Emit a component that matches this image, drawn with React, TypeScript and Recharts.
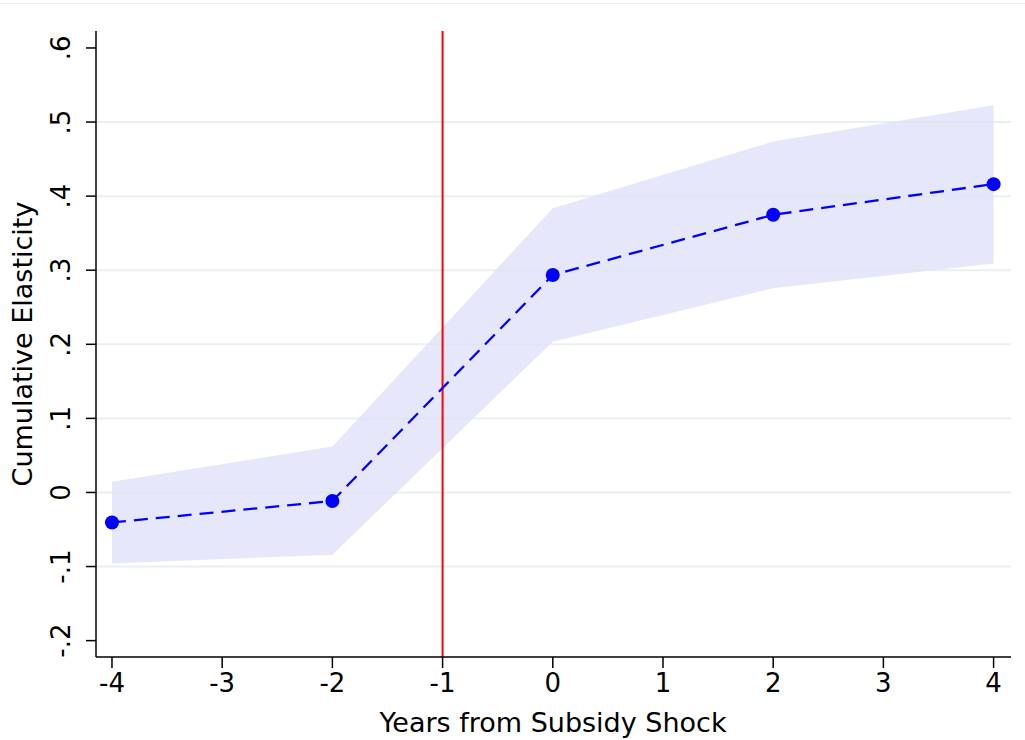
import React from 'react';
import {
	Area,
	ComposedChart,
	Label,
	Line,
	ReferenceLine,
	XAxis,
	YAxis,
} from 'recharts';

// event-study estimates
const years = [-4, -2, 0, 2, 4];
const coef = [-0.0405, -0.0115, 0.2935, 0.3748, 0.4162];
const ciLow = [-0.0958, -0.084, 0.2034, 0.2758, 0.309];
const ciHigh = [0.0144, 0.062, 0.3838, 0.4737, 0.5228];

const xTicks = [-4, -3, -2, -1, 0, 1, 2, 3, 4];
const yTicks = [-0.2, -0.1, 0, 0.1, 0.2, 0.3, 0.4, 0.5, 0.6];
const gridValues = [-0.1, 0, 0.1, 0.2, 0.3, 0.4, 0.5];
const shockYear = -1;

const data = years.map((y, i) => ({
	year: y,
	coef: coef[i],
	ci: [ciLow[i], ciHigh[i]],
}));

const FONT = '"DejaVu Sans", sans-serif';

// stata style labels: .6, -.1, 0
const fmtY = (v: number) => {
	if (Math.abs(v) < 1e-9) return '0';
	return (v < 0 ? '-' : '') + Math.abs(v).toFixed(1).replace(/^0/, '');
};

const YTick = (props: any) => {
	const { y, payload } = props;
	return (
		<text
			x={70}
			y={y}
			transform={`rotate(-90, 70, ${y})`}
			textAnchor="middle"
			fontSize={26}
			fontFamily={FONT}
			fill="#000"
		>
			{fmtY(payload.value)}
		</text>
	);
};

const XTick = (props: any) => {
	const { x, payload } = props;
	return (
		<text x={x} y={692} textAnchor="middle" fontSize={26} fontFamily={FONT} fill="#000">
			{payload.value}
		</text>
	);
};

export default function App() {
	return (
		<div style={{ position: 'absolute', left: 0, top: 0, width: 1025, height: 740, background: '#fff' }}>
			<div style={{ position: 'absolute', left: 0, top: 3, width: 1025, height: 1, background: '#eeeeee' }} />
			<ComposedChart
				width={1025}
				height={740}
				data={data}
				margin={{ top: 31, right: 14, bottom: 0, left: 0 }}
			>
				<XAxis
					dataKey="year"
					type="number"
					domain={[-4.145, 4.158]}
					ticks={xTicks}
					allowDataOverflow
					height={83}
					tickSize={11}
					axisLine={{ stroke: '#000', strokeWidth: 1.5 }}
					tickLine={{ stroke: '#000', strokeWidth: 1.5 }}
					tick={<XTick />}
					interval={0}
				>
					<Label
						content={() => (
							<text x={553} y={732} textAnchor="middle" fontSize={27} fontFamily={FONT} fill="#000">
								Years from Subsidy Shock
							</text>
						)}
					/>
				</XAxis>
				<YAxis
					type="number"
					domain={[-0.2221, 0.6229]}
					ticks={yTicks}
					allowDataOverflow
					width={96}
					tickSize={10}
					axisLine={{ stroke: '#000', strokeWidth: 1.5 }}
					tickLine={{ stroke: '#000', strokeWidth: 1.5 }}
					tick={<YTick />}
					interval={0}
				>
					<Label
						content={() => (
							<text
								x={32}
								y={344}
								transform="rotate(-90, 32, 344)"
								textAnchor="middle"
								fontSize={27}
								fontFamily={FONT}
								fill="#000"
							>
								Cumulative Elasticity
							</text>
						)}
					/>
				</YAxis>
				<Area
					dataKey="ci"
					type="linear"
					stroke="none"
					fill="#e7e7fb"
					fillOpacity={1}
					isAnimationActive={false}
					activeDot={false}
				/>
				{gridValues.map((v) => (
					<ReferenceLine key={v} y={v} stroke="#dbe6ea" strokeOpacity={0.6} strokeWidth={2} />
				))}
				<ReferenceLine x={shockYear} stroke="#ff0000" strokeWidth={2} />
				<Line
					dataKey="coef"
					type="linear"
					stroke="#0000ff"
					strokeWidth={2.3}
					strokeDasharray="14 8"
					dot={{ r: 7, fill: '#0000ff', stroke: 'none' }}
					activeDot={false}
					isAnimationActive={false}
				/>
			</ComposedChart>
		</div>
	);
}
